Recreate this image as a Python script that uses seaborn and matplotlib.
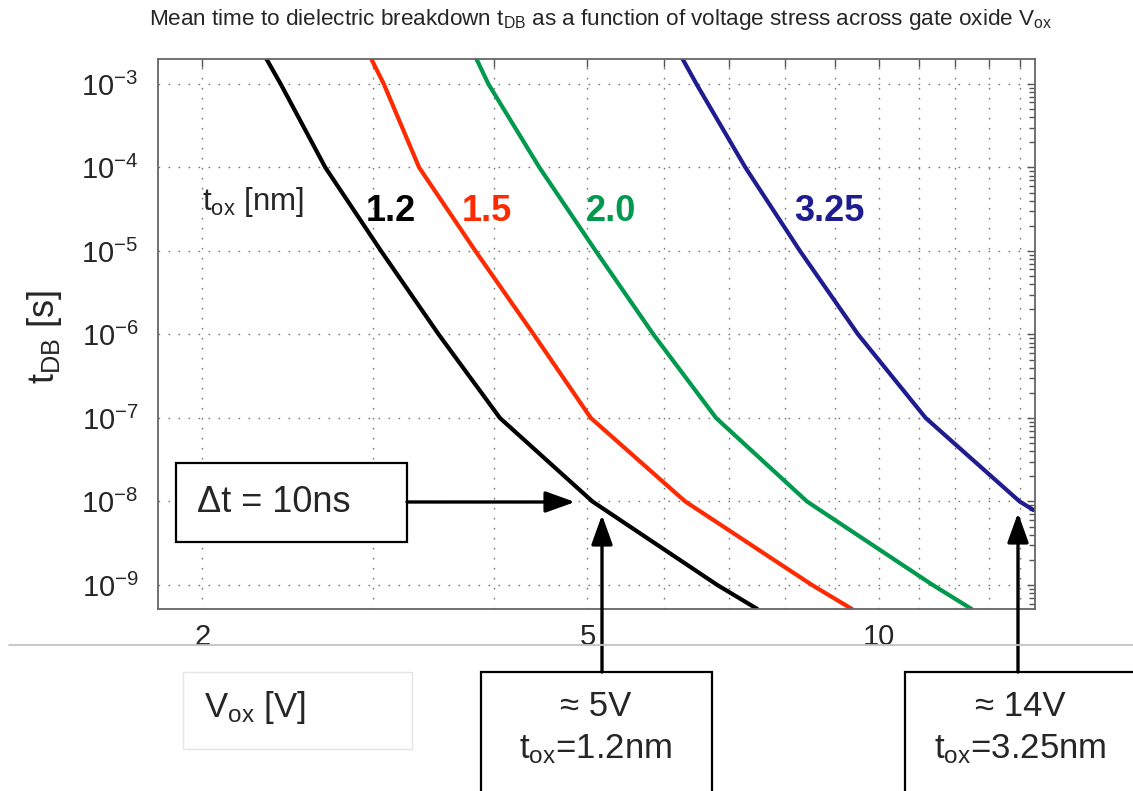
import numpy as np
import pandas as pd
import matplotlib
matplotlib.use('Agg')
from matplotlib import pyplot as plt
from matplotlib.patches import Rectangle, FancyArrowPatch
from matplotlib.lines import Line2D
from matplotlib.ticker import LogLocator, FixedLocator, FixedFormatter, NullLocator
import seaborn as sns

# oxide thickness labels and colours
tox = ['1.2', '1.5', '2.0', '3.25']
colors = ['#000000', '#ff2a00', '#00994d', '#1f1c8f']

# curves: V_ox [V] vs t_DB [s]
t_pts = [1.99e-3, 1e-3, 1e-4, 1e-5, 1e-6, 1e-7, 1e-8, 1e-9, 5.16e-10]
v_12 = [2.33, 2.41, 2.68, 3.06, 3.51, 4.06, 5.06, 6.81, 7.49]
v_15 = [2.99, 3.08, 3.35, 3.83, 4.40, 5.04, 6.31, 8.53, 9.38]
v_20 = [3.84, 3.95, 4.46, 5.10, 5.85, 6.79, 8.43, 11.37, 12.47]
v_325 = [6.27, 6.48, 7.28, 8.29, 9.52, 11.18, 13.98, 14.45]
t_325 = [1.99e-3, 1e-3, 1e-4, 1e-5, 1e-6, 1e-7, 1e-8, 7.9e-9]

x_ticks = list(range(2, 15))
x_labels = ['2', '', '', '5', '', '', '', '', '10', '', '', '', '']

df = pd.concat([
    pd.DataFrame({'V': v_12, 't': t_pts, 'tox': '1.2'}),
    pd.DataFrame({'V': v_15, 't': t_pts, 'tox': '1.5'}),
    pd.DataFrame({'V': v_20, 't': t_pts, 'tox': '2.0'}),
    pd.DataFrame({'V': v_325, 't': t_325, 'tox': '3.25'}),
], ignore_index=True)

sns.set_style('white')
plt.rcParams['font.family'] = ['Liberation Sans', 'DejaVu Sans']
plt.rcParams['mathtext.default'] = 'regular'
plt.rcParams['axes.unicode_minus'] = False

W, H = 1133, 791
def fx(px):
    return px / W
def fy(py):
    return 1 - py / H

fig = plt.figure(figsize=(11.33, 7.91), dpi=100)
ax = fig.add_axes([fx(158), fy(609), fx(1035) - fx(158), fy(59) - fy(609)])
ax.set_xscale('log')
ax.set_yscale('log')

sns.lineplot(data=df, x='V', y='t', hue='tox', hue_order=tox, palette=colors,
             linewidth=3, legend=False, sort=False, estimator=None, ax=ax)

ax.set_xlim(1.80, 14.5)
ax.set_ylim(5.16e-10, 1.99e-3)
ax.set_xlabel('')
ax.set_ylabel('')

ax.xaxis.set_major_locator(FixedLocator(x_ticks))
ax.xaxis.set_major_formatter(FixedFormatter(x_labels))
ax.xaxis.set_minor_locator(NullLocator())
ax.yaxis.set_major_locator(LogLocator(base=10, numticks=20))
ax.yaxis.set_minor_locator(LogLocator(base=10, subs=np.arange(2, 10), numticks=20))

ax.tick_params(which='both', direction='in', top=True, right=True, color='#555555')
ax.tick_params(which='major', length=6, width=1, labelsize=21)
ax.tick_params(which='minor', length=4, width=1)
ax.tick_params(axis='y', pad=14)
ax.tick_params(axis='x', pad=10)
ax.grid(True, which='major', color='#777777', linestyle=(0, (1.2, 6)), linewidth=1.0)
for s in ax.spines.values():
    s.set_color('#666666')
    s.set_linewidth(1.3)

# labels inside the plot
ax.text(0.050, 0.740, r'$\mathregular{t_{ox}}$ [nm]', transform=ax.transAxes,
        fontsize=22.5, va='center', ha='left')
for lab, col, xp in zip(tox, colors, [0.266, 0.375, 0.517, 0.766]):
    ax.text(xp, 0.7236, lab, transform=ax.transAxes, color=col, fontsize=26,
            fontweight='bold', ha='center', va='center')

# title and y label
fig.text(fx(601), fy(20),
         r'Mean time to dielectric breakdown $\mathregular{t_{DB}}$ as a function of voltage stress across gate oxide $\mathregular{V_{ox}}$',
         ha='center', va='center', fontsize=16.2)
fig.text(fx(45), fy(337), r'$\mathregular{t_{DB}}$ [s]', rotation=90,
         ha='center', va='center', fontsize=26)

# separator line and x label box
fig.add_artist(Line2D([fx(9), fx(1133)], [fy(645), fy(645)], transform=fig.transFigure,
                      color='#c4c4c4', linewidth=1.3))
fig.add_artist(Rectangle((fx(183), fy(749)), fx(412) - fx(183), fy(672) - fy(749),
                         transform=fig.transFigure, facecolor='white',
                         edgecolor='#e4e4e4', linewidth=1))
fig.text(fx(204), fy(708), r'$\mathregular{V_{ox}}$ [V]', ha='left', va='center', fontsize=25)

def box(x0, y0, x1, y1):
    fig.add_artist(Rectangle((fx(x0), fy(y1)), fx(x1) - fx(x0), fy(y0) - fy(y1),
                             transform=fig.transFigure, facecolor='white',
                             edgecolor='black', linewidth=1.6))

def arrow(x0, y0, x1, y1):
    fig.add_artist(FancyArrowPatch((fx(x0), fy(y0)), (fx(x1), fy(y1)),
                                   transform=fig.transFigure,
                                   arrowstyle='-|>,head_length=1.0,head_width=0.36',
                                   mutation_scale=18, color='black', linewidth=2.4,
                                   shrinkA=0, shrinkB=0))

box(176, 463, 407, 542)
fig.text(fx(197), fy(502), u'\u0394t = 10ns', ha='left', va='center', fontsize=26)
arrow(407, 502, 575, 502)

box(481, 672, 712, 800)
fig.text(fx(596), fy(707), u'\u2248 5V', ha='center', va='center', fontsize=25)
fig.text(fx(596), fy(749), r'$\mathregular{t_{ox}}$=1.2nm', ha='center', va='center', fontsize=25)
arrow(602, 672, 602, 515)

box(905, 672, 1140, 800)
fig.text(fx(1020), fy(707), u'\u2248 14V', ha='center', va='center', fontsize=25)
fig.text(fx(1020), fy(749), r'$\mathregular{t_{ox}}$=3.25nm', ha='center', va='center', fontsize=25)
arrow(1018, 672, 1018, 513)

fig.savefig('out.png', dpi=100)
